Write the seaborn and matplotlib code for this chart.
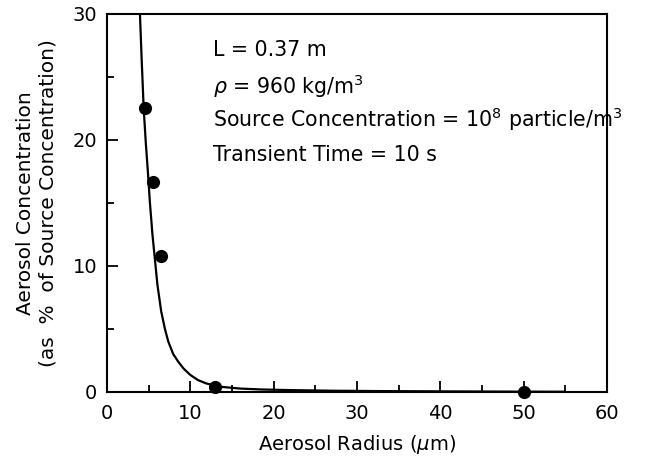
import matplotlib
matplotlib.use("Agg")
import matplotlib.pyplot as plt
from matplotlib.ticker import MultipleLocator
import seaborn as sns
import pandas as pd

# model curve
curve_radius = [3.95, 4.15, 4.4, 4.65, 4.9, 5.15, 5.45, 5.75, 6.05, 6.5, 6.95, 7.35,
                7.95, 8.55, 9.2, 10.0, 10.9, 11.9, 13.5, 16, 18.5, 22, 27, 33, 40, 48, 55]
curve_conc = [30, 26.5, 22.5, 19.8, 17.5, 15.0, 12.5, 10.5, 8.5, 6.4, 5.0, 4.0,
              3.0, 2.4, 1.85, 1.35, 0.95, 0.68, 0.42, 0.27, 0.2, 0.15, 0.1, 0.07, 0.05, 0.03, 0.02]

# measured points
meas_radius = [4.5, 5.5, 6.5, 13.0, 50.0]
meas_conc = [22.5, 16.7, 10.8, 0.4, 0.0]

notes = ["L = 0.37 m",
         r"$\rho$ = 960 kg/m$^3$",
         r"Source Concentration = 10$^8$ particle/m$^3$",
         "Transient Time = 10 s"]

sns.set_style("ticks")
plt.rcParams['font.family'] = ['DejaVu Sans']
plt.rcParams['mathtext.fontset'] = 'dejavusans'
for k in ['text.color', 'axes.labelcolor', 'xtick.color', 'ytick.color', 'axes.edgecolor']:
    plt.rcParams[k] = 'black'

curve = pd.DataFrame({"r": curve_radius, "c": curve_conc})
meas = pd.DataFrame({"r": meas_radius, "c": meas_conc})

fig = plt.figure(figsize=(6.53, 4.59), dpi=100)
ax = fig.add_axes([0.1639, 0.146, 0.7657, 0.8235])

sns.lineplot(data=curve, x="r", y="c", ax=ax, color="black", linewidth=1.6,
             sort=False, estimator=None)
sns.scatterplot(data=meas, x="r", y="c", ax=ax, color="black", s=90,
                edgecolor="black", linewidth=0, clip_on=False, zorder=5)

ax.set_xlim(0, 60)
ax.set_ylim(0, 30)
ax.xaxis.set_major_locator(MultipleLocator(10))
ax.xaxis.set_minor_locator(MultipleLocator(5))
ax.yaxis.set_major_locator(MultipleLocator(10))
ax.yaxis.set_minor_locator(MultipleLocator(5))
ax.tick_params(which="both", direction="in", width=1.3, labelsize=14,
               color="black", labelcolor="black")
ax.tick_params(which="major", length=8)
ax.tick_params(which="minor", length=5)
ax.tick_params(axis="x", pad=9)
ax.tick_params(axis="y", pad=7)
for sp in ax.spines.values():
    sp.set_visible(True)
    sp.set_linewidth(1.5)
    sp.set_color("black")

ax.set_xlabel(r"Aerosol Radius ($\mu$m)", fontsize=14, labelpad=7, color="black")
ax.set_ylabel("Aerosol Concentration\n(as  %  of Source Concentration)", fontsize=14.5,
              labelpad=11, linespacing=1.2, color="black")

ys = [0.905, 0.81, 0.722, 0.627]
for t, yy in zip(notes, ys):
    ax.text(0.212, yy, t, transform=ax.transAxes, fontsize=14.8, va="center",
            ha="left", color="black")

fig.savefig("out.png", dpi=100)
